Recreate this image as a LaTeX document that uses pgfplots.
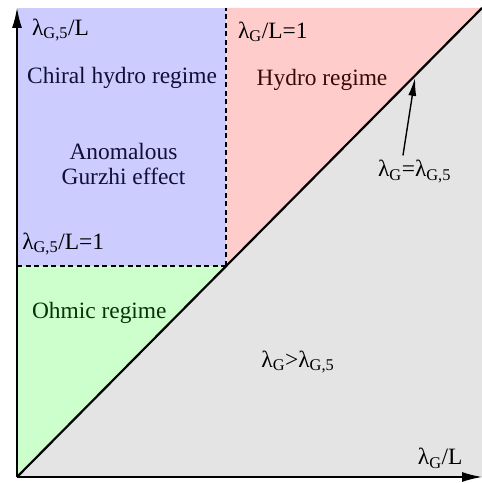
\documentclass[border=0pt]{standalone}
\usepackage{fontspec}
\setmainfont{Liberation Serif}
\usepackage{pgfplots}
\pgfplotsset{compat=1.18}
\usetikzlibrary{arrows.meta}
\definecolor{cblue}{RGB}{204,204,255}
\definecolor{cred}{RGB}{255,204,204}
\definecolor{cgreen}{RGB}{204,255,204}
\definecolor{cgray}{RGB}{228,228,228}
\definecolor{tblue}{RGB}{15,15,55}
\definecolor{tred}{RGB}{55,10,10}
\definecolor{tgreen}{RGB}{10,50,10}
\newcommand{\sub}[1]{\textsubscript{#1}}
\begin{document}
\fontsize{23.5}{28}\selectfont
\begin{tikzpicture}[x=1bp,y=1bp]
\useasboundingbox (-17bp,-6bp) rectangle (465bp,477bp);
\begin{axis}[
  at={(0,0)}, anchor=south west,
  scale only axis, width=465bp, height=469bp,
  xmin=0, xmax=1, ymin=0, ymax=1,
  axis lines=left,
  axis line style={line width=1.4bp, -{Latex[length=20bp,width=10bp]}},
  xtick=\empty, ytick=\empty,
  clip=false, axis on top,
  every node/.style={font=\fontsize{23.5}{28}\selectfont},
]
\addplot[fill=cgray, draw=none] coordinates {(0,0) (1,0) (1,1)} -- cycle;
\addplot[fill=cblue, draw=none] coordinates {(0,0.45) (0.45,0.45) (0.45,1) (0,1)} -- cycle;
\addplot[fill=cred, draw=none] coordinates {(0.45,0.45) (1,1) (0.45,1)} -- cycle;
\addplot[fill=cgreen, draw=none] coordinates {(0,0) (0.45,0.45) (0,0.45)} -- cycle;
\addplot[black, line width=2.2bp] coordinates {(0,0) (1,1)};
\addplot[black, line width=2.2bp, dash pattern=on 5bp off 3.5bp] coordinates {(0.45,0.45) (0.45,1)};
\addplot[black, line width=2.2bp, dash pattern=on 5bp off 3.5bp] coordinates {(0,0.45) (0.45,0.45)};
\draw[black, line width=1.4bp, -{Latex[length=18bp,width=8bp]}] (axis cs:0.830,0.6855) -- (axis cs:0.856,0.851);
\node[anchor=base west, inner sep=0pt, text=black] at (axis cs:0.032,0.942) {λ\sub{G,5}/L};
\node[anchor=base west, inner sep=0pt, text=tblue] at (axis cs:0.0215,0.840) {Chiral hydro regime};
\node[anchor=base, inner sep=0pt, text=tblue] at (axis cs:0.229,0.676) {Anomalous};
\node[anchor=base, inner sep=0pt, text=tblue] at (axis cs:0.229,0.623) {Gurzhi effect};
\node[anchor=base west, inner sep=0pt, text=black] at (axis cs:0.011,0.486) {λ\sub{G,5}/L=1};
\node[anchor=base, inner sep=0pt, text=tgreen] at (axis cs:0.177,0.339) {Ohmic regime};
\node[anchor=base west, inner sep=0pt, text=black] at (axis cs:0.475,0.936) {λ\sub{G}/L=1};
\node[anchor=base, inner sep=0pt, text=tred] at (axis cs:0.656,0.834) {Hydro regime};
\node[anchor=base, inner sep=0pt, text=black] at (axis cs:0.855,0.640) {λ\sub{G}=λ\sub{G,5}};
\node[anchor=base, inner sep=0pt, text=black] at (axis cs:0.604,0.2345) {λ\sub{G}>λ\sub{G,5}};
\node[anchor=base, inner sep=0pt, text=black] at (axis cs:0.910,0.0256) {λ\sub{G}/L};
\end{axis}
\end{tikzpicture}
\end{document}
